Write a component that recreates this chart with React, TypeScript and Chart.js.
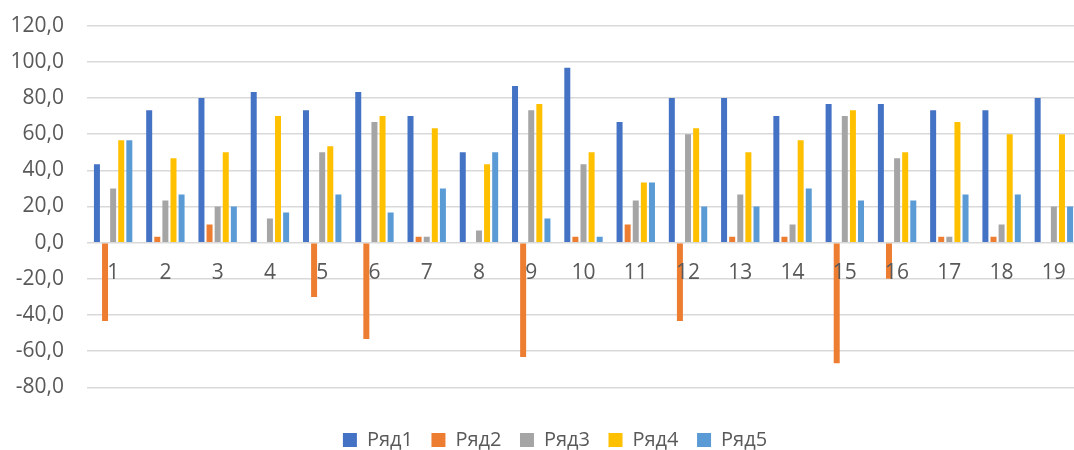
import React, { useEffect, useRef } from 'react';
import { Chart, registerables } from 'chart.js';

Chart.register(...registerables);

const categories = ['1', '2', '3', '4', '5', '6', '7', '8', '9', '10', '11', '12', '13', '14', '15', '16', '17', '18', '19'];
const seriesNames = ['Ряд1', 'Ряд2', 'Ряд3', 'Ряд4', 'Ряд5'];
const row1 = [43.3, 73.3, 80, 83.3, 73.3, 83.3, 70, 50, 86.7, 96.7, 66.7, 80, 80, 70, 76.7, 76.7, 73.3, 73.3, 80];
const row2 = [-43.3, 3.3, 10, 0, -30, -53.3, 3.3, 0, -63.3, 3.3, 10, -43.3, 3.3, 3.3, -66.7, -20, 3.3, 3.3, 0];
const row3 = [30, 23.3, 20, 13.3, 50, 66.7, 3.3, 6.7, 73.3, 43.3, 23.3, 60, 26.7, 10, 70, 46.7, 3.3, 10, 20];
const row4 = [56.7, 46.7, 50, 70, 53.3, 70, 63.3, 43.3, 76.7, 50, 33.3, 63.3, 50, 56.7, 73.3, 50, 66.7, 60, 60];
const row5 = [56.7, 26.7, 20, 16.7, 26.7, 16.7, 30, 50, 13.3, 3.3, 33.3, 20, 20, 30, 23.3, 23.3, 26.7, 26.7, 20];
const colors = ['#4472C4', '#ED7D31', '#A5A5A5', '#FFC000', '#5B9BD5'];
const yMin = -80;
const yMax = 120;
const yStep = 20;

const FONT = "'Open Sans', 'Liberation Sans', sans-serif";
const TEXT = '#595959';

const legendShift = {
  id: 'legendShift',
  afterLayout(chart: any) {
    const l = chart.legend;
    if (!l) return;
    const pad = l.options.labels.padding;
    const fs = 20;
    const center = l.top + pad + fs / 2;
    const dy = 440 - center;
    l.top += dy;
    l.bottom += dy;
    l.left += 15;
    l.right += 15;
  },
};

export default function App() {
  const ref = useRef<HTMLCanvasElement | null>(null);

  useEffect(() => {
    if (!ref.current) return;
    const rows = [row1, row2, row3, row4, row5];
    const chart = new Chart(ref.current, {
      type: 'bar',
      data: {
        labels: categories,
        datasets: rows.map((r, i) => ({
          label: seriesNames[i],
          data: r,
          backgroundColor: colors[i],
          borderWidth: 0,
          categoryPercentage: 0.775,
          barPercentage: 0.74,
        })),
      },
      options: {
        responsive: false,
        animation: false,
        devicePixelRatio: 1,
        layout: { padding: { top: 25.7, left: 0, right: 30, bottom: 14.2 } },
        plugins: {
          legend: {
            position: 'bottom',
            labels: {
              boxWidth: 14,
              boxHeight: 14,
              padding: 18.5,
              color: TEXT,
              font: { family: FONT, size: 20 },
            },
          },
          tooltip: { enabled: false },
          title: { display: false },
        },
        scales: {
          x: {
            position: { y: 0 } as any,
            grid: { display: false, drawTicks: false },
            border: { display: false },
            ticks: {
              z: 1,
              autoSkip: false,
              maxRotation: 0,
              padding: 18,
              color: TEXT,
              font: { family: FONT, size: 21 },
            },
          },
          y: {
            min: yMin,
            max: yMax,
            afterFit: (scale: any) => {
              scale.width = 87;
              scale.paddingTop = 0;
              scale.paddingBottom = 0;
            },
            grid: { color: '#d9d9d9', lineWidth: 1.5, drawTicks: false },
            border: { display: false },
            ticks: {
              stepSize: yStep,
              padding: 23,
              color: TEXT,
              font: { family: FONT, size: 21 },
              callback: (v: any) => Number(v).toFixed(1).replace('.', ','),
            },
          },
        },
      },
      plugins: [legendShift],
    });
    return () => chart.destroy();
  }, []);

  return (
    <div
      style={{
        position: 'absolute',
        left: 0,
        top: 0,
        width: 1074,
        height: 450,
        overflow: 'hidden',
        background: '#ffffff',
      }}
    >
      <canvas ref={ref} width={1110} height={450} style={{ display: 'block', width: 1110, height: 450 }} />
    </div>
  );
}
